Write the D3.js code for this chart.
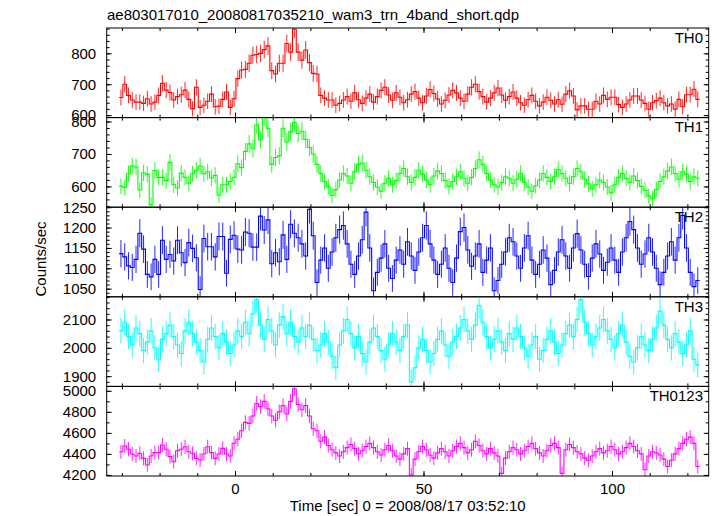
<!DOCTYPE html>
<html>
<head>
<meta charset="utf-8">
<script src="https://cdn.jsdelivr.net/npm/d3@7/dist/d3.min.js"></script>
<style>
  html, body { margin: 0; padding: 0; background: #fff; }
  svg { display: block; font-family: "Liberation Sans", Arial, Helvetica, sans-serif; }
</style>
</head>
<body>
<svg id="chart" width="717" height="516"></svg>
<script>
// ---------------- DATA ----------------
const TITLE = "ae803017010_20080817035210_wam3_trn_4band_short.qdp";
const X_LABEL = "Time [sec] 0 = 2008/08/17 03:52:10";
const Y_LABEL = "Counts/sec";
const TIME_START = -30.75;   // left edge of first 1-s bin
const BIN_WIDTH = 1;
const PANEL_NAMES = ["TH0", "TH1", "TH2", "TH3", "TH0123"];

const TH0 = [
  657, 700, 664, 649, 642, 642, 638, 653, 636, 642, 664, 703, 681, 673, 649, 660, 666, 681, 651, 621,
  690, 625, 632, 645, 668, 627, 629, 651, 675, 625, 653,
  718, 746, 748, 768, 794, 796, 800, 812, 824, 744, 733, 768, 768, 832, 804, 878, 804, 778, 811, 770,
  735, 733, 664, 655, 649, 649, 632, 638, 649,
  660, 645, 672, 650, 638, 655, 668, 642, 660, 680, 690, 665, 648, 672, 658, 640, 650, 668, 676, 655,
  640, 662, 683, 670, 652, 636, 648, 665, 680, 672, 655, 645, 668, 690, 700, 676, 660, 642, 655, 672,
  688, 665, 648, 660, 675, 655, 640, 632, 650, 664, 645, 630, 642, 658, 648, 636, 650,
  635, 668, 679, 662, 617, 630, 630, 619, 619, 645, 636, 664, 651, 658, 658, 634, 625, 636, 649, 662,
  662, 649, 638, 619, 640, 647, 655, 640, 630, 636, 619, 651, 627, 666, 666, 684, 651
];

const TH1 = [
  600, 597, 639, 663, 660, 589, 642, 637, 544, 649, 628, 628, 618, 674, 605, 595, 641, 628, 610, 639,
  650, 663, 639, 645, 626, 634, 573, 605, 605, 615, 628, 670, 658, 708, 731, 716, 789, 744, 814, 779,
  668, 689, 694, 779, 737, 768, 797, 763,
  770, 745, 720, 700, 668, 640,
  615, 598, 572, 590, 620, 640, 632, 610, 645, 668,
  672, 650, 630, 612, 598, 585, 610, 625, 605, 618,
  640, 655, 630, 612, 628, 650, 638, 620, 605, 632,
  648, 640, 618, 600, 615, 630, 645, 625, 610, 628,
  655, 682, 668, 640, 620, 605, 598, 612, 630, 625,
  610, 622, 640, 612, 598, 585, 602, 620, 640, 628,
  615, 630, 652, 640, 625, 610, 630, 655, 645, 622,
  608, 592, 605, 620, 612, 598, 580, 605, 628, 640,
  625, 612, 632, 618, 600, 588, 570, 562, 590, 615,
  630, 648, 660, 640, 622, 645, 638, 615, 630, 625
];

const TH2 = [
  1136, 1128, 1106, 1102, 1122, 1186, 1147, 1085, 1079, 1122, 1085, 1169, 1122, 1134, 1118, 1169,
  1138, 1114, 1163, 1149, 1126, 1048, 1173, 1153, 1153, 1128, 1178, 1178, 1088, 1171, 1181, 1147,
  1145, 1189, 1186, 1152, 1152, 1228, 1194, 1219, 1111, 1138, 1116, 1182, 1122, 1208, 1186, 1175,
  1160, 1130, 1245, 1180, 1065, 1120, 1150, 1100, 1140, 1175,
  1195, 1205, 1160, 1110, 1085, 1130, 1170, 1238, 1150, 1045,
  1090, 1125, 1160, 1100, 1075, 1120, 1145, 1110, 1165, 1130,
  1095, 1140, 1175, 1205, 1160, 1120, 1085, 1110, 1150, 1100,
  1065, 1125, 1190, 1200, 1145, 1105, 1130, 1160, 1090, 1120,
  1150, 1045, 1070, 1110, 1140, 1175, 1165, 1130, 1100, 1150,
  1180, 1120, 1085, 1110, 1145, 1125, 1060, 1095, 1140, 1170,
  1130, 1100, 1150, 1185, 1145, 1110, 1080, 1125, 1160, 1135,
  1095, 1115, 1150, 1120, 1090, 1140, 1175, 1215, 1195, 1150,
  1110, 1135, 1175, 1140, 1100, 1060, 1090, 1130, 1165, 1120,
  1175, 1230, 1150, 1090, 1055, 1070
];

const TH3 = [
  2060, 2090, 2040, 2010, 2070, 2050, 1990, 2020, 2060, 2000,
  1960, 2030, 2050, 2080, 2040, 2010, 1980, 2060, 2090, 2050,
  2020, 1990, 1950, 2030, 2070, 2040, 2000, 2050, 2020, 1980,
  2010, 2060, 2040, 2090, 2050, 2120, 2170, 2080, 2030, 2100,
  2060, 2010, 2080, 2110, 2050, 2090, 2040, 2020, 2070, 2040,
  2080, 2030, 1990, 2010, 2050, 2020, 1970, 1930, 2010, 2060,
  2100, 2050, 2000, 2040, 1980, 1950, 2020, 2070, 2040, 1990,
  1960, 2010, 2050, 2020, 1990, 2040, 2080, 1880, 1930, 2000,
  2030, 1990, 1950, 1980, 2030, 2060, 2010, 1970, 2020, 2040,
  2070, 2100, 2060, 2030, 2080, 2150, 2090, 2040, 2000, 2030,
  2060, 2020, 1990, 2050, 2030, 2070, 2040, 2000, 1970, 2010,
  2040, 1960, 1990, 2030, 2060, 2020, 1980, 2010, 2050, 2080,
  2040, 2100, 2170, 2090, 2050, 2010, 2040, 2070, 2100, 2060,
  2030, 2000, 2050, 2080, 2020, 1970, 1950, 2000, 2040, 2010,
  1990, 2030, 2070, 2130, 2080, 2030, 2000, 2050, 2020, 1980,
  2010, 2060, 1960, 1940
];

const TH0123 = [
  4421, 4475, 4444, 4399, 4380, 4406, 4358, 4295, 4380, 4412, 4412, 4485, 4444, 4374, 4326, 4430,
  4444, 4468, 4421, 4406, 4358, 4342, 4399, 4468, 4412, 4358, 4399, 4453, 4399, 4380, 4501,
  4540, 4620, 4700, 4690, 4760, 4880, 4850, 4900, 4830, 4760, 4720, 4800, 4860, 4780, 4900, 5020,
  4870, 4820, 4860, 4760, 4640, 4620, 4520, 4560, 4480,
  4440, 4410, 4380, 4420, 4460, 4490, 4450, 4400, 4430, 4470,
  4500, 4460, 4420, 4390, 4440, 4480, 4430, 4380, 4350, 4400,
  4450, 4200, 4350, 4420, 4470, 4440, 4390, 4360, 4410, 4450,
  4420, 4380, 4430, 4470, 4500, 4460, 4410, 4440, 4520, 4480,
  4430, 4400, 4450, 4410, 4380, 4215, 4360, 4420, 4460, 4440,
  4400, 4430, 4470, 4500, 4450, 4410, 4380, 4430, 4480, 4500,
  4460, 4215, 4440, 4490, 4460, 4420, 4400, 4360, 4340, 4380,
  4420, 4450, 4410, 4430, 4470, 4440, 4400, 4420, 4460, 4500,
  4470, 4430, 4400, 4250, 4380, 4420, 4410, 4390, 4350, 4280,
  4340, 4400, 4450, 4500, 4540, 4560, 4500, 4280
];

// axis ranges and tick labels
const X_RANGE = [-34.03, 125.65];
const X_MAJOR = [0, 50, 100];
const X_MINOR_STEP = 10;
const Y_RANGES = [[592, 882], [536, 812], [1030, 1250], [1864, 2180], [4190, 5042]];
const Y_MAJOR = [[600, 700, 800], [600, 700, 800], [1050, 1100, 1150, 1200, 1250], [1900, 2000, 2100], [4200, 4400, 4600, 4800, 5000]];
const Y_MINOR_STEP = [20, 20, 10, 20, 100];
const SERIES = [TH0, TH1, TH2, TH3, TH0123];
const COLORS = ["#ff0000", "#00ff00", "#0000ff", "#00ffff", "#ff00ff"];

// ---------------- LAYOUT ----------------
const L = 106.7, R = 708.7, T = 28, PH = 89.6;
const svg = d3.select("#chart");
const x = d3.scaleLinear().domain(X_RANGE).range([L, R]);
const xMinor = d3.range(Math.ceil(X_RANGE[0] / X_MINOR_STEP) * X_MINOR_STEP, X_RANGE[1], X_MINOR_STEP);
const FS = 15;

SERIES.forEach((vals, i) => {
  const y0 = T + i * PH, y1 = y0 + PH;
  const y = d3.scaleLinear().domain(Y_RANGES[i]).range([y1, y0]);
  const g = svg.append("g");
  const clipId = "clip" + i;
  svg.append("clipPath").attr("id", clipId).append("rect")
    .attr("x", L).attr("y", y0).attr("width", R - L).attr("height", PH);

  const data = vals.map((v, k) => ({
    t0: TIME_START + k * BIN_WIDTH,
    t1: TIME_START + (k + 1) * BIN_WIDTH,
    tc: TIME_START + (k + 0.5) * BIN_WIDTH,
    v: v,
    e: Math.sqrt(v * BIN_WIDTH) / BIN_WIDTH   // Poisson error of the bin
  }));

  const plot = g.append("g").attr("clip-path", `url(#${clipId})`);
  // error bars
  plot.selectAll("line.err").data(data).enter().append("line")
    .attr("x1", d => x(d.tc)).attr("x2", d => x(d.tc))
    .attr("y1", d => y(d.v - d.e)).attr("y2", d => y(d.v + d.e))
    .attr("stroke", COLORS[i]).attr("stroke-width", 1).attr("opacity", 0.85);
  // step histogram
  const pts = [];
  data.forEach(d => { pts.push([d.t0, d.v]); pts.push([d.t1, d.v]); });
  const line = d3.line().x(p => x(p[0])).y(p => y(p[1]));
  plot.append("path").attr("d", line(pts))
    .attr("fill", "none").attr("stroke", COLORS[i]).attr("stroke-width", 1.1);

  // axes
  const yMinor = d3.range(Math.ceil(Y_RANGES[i][0] / Y_MINOR_STEP[i]) * Y_MINOR_STEP[i], Y_RANGES[i][1] + 1e-9, Y_MINOR_STEP[i]);
  const addAxis = (axis, tx, ty) => {
    const a = g.append("g").attr("transform", `translate(${tx},${ty})`).call(axis);
    a.select(".domain").remove();
    a.selectAll(".tick line").attr("stroke", "#000");
    a.selectAll("text").attr("font-size", FS).attr("fill", "#000")
      .attr("font-family", '"Liberation Sans", Arial, Helvetica, sans-serif');
    return a;
  };
  addAxis(d3.axisLeft(y).tickValues(yMinor).tickSize(-3).tickFormat(""), L, 0);
  addAxis(d3.axisLeft(y).tickValues(Y_MAJOR[i]).tickSize(-5).tickPadding(10.5).tickFormat(d3.format("d")), L, 0);
  addAxis(d3.axisRight(y).tickValues(yMinor).tickSize(-3).tickFormat(""), R, 0);
  addAxis(d3.axisRight(y).tickValues(Y_MAJOR[i]).tickSize(-5).tickFormat(""), R, 0);
  addAxis(d3.axisTop(x).tickValues(xMinor).tickSize(-3).tickFormat(""), 0, y0);
  addAxis(d3.axisTop(x).tickValues(X_MAJOR).tickSize(-5).tickFormat(""), 0, y0);
  addAxis(d3.axisBottom(x).tickValues(xMinor).tickSize(-3).tickFormat(""), 0, y1);
  const bottomMajor = addAxis(d3.axisBottom(x).tickValues(X_MAJOR).tickSize(-5).tickPadding(7)
    .tickFormat(i === SERIES.length - 1 ? d3.format("d") : ""), 0, y1);
  bottomMajor.selectAll("text").attr("dy", "0.71em");

  // frame
  g.append("rect").attr("x", L).attr("y", y0).attr("width", R - L).attr("height", PH)
    .attr("fill", "none").attr("stroke", "#000").attr("stroke-width", 1);

  // panel name
  g.append("text").attr("x", 703).attr("y", y0 + 14.7)
    .attr("text-anchor", "end").attr("font-size", FS).attr("fill", "#000")
    .text(PANEL_NAMES[i]);
});

// title & labels
svg.append("text").attr("x", 107).attr("y", 19.5).attr("font-size", FS).attr("fill", "#000").text(TITLE);
svg.append("text").attr("x", (L + R) / 2).attr("y", 511).attr("text-anchor", "middle")
  .attr("font-size", FS).attr("fill", "#000").text(X_LABEL);
svg.append("text").attr("transform", "translate(45.5,259) rotate(-90)").attr("text-anchor", "middle")
  .attr("font-size", FS).attr("fill", "#000").text(Y_LABEL);
</script>
</body>
</html>
